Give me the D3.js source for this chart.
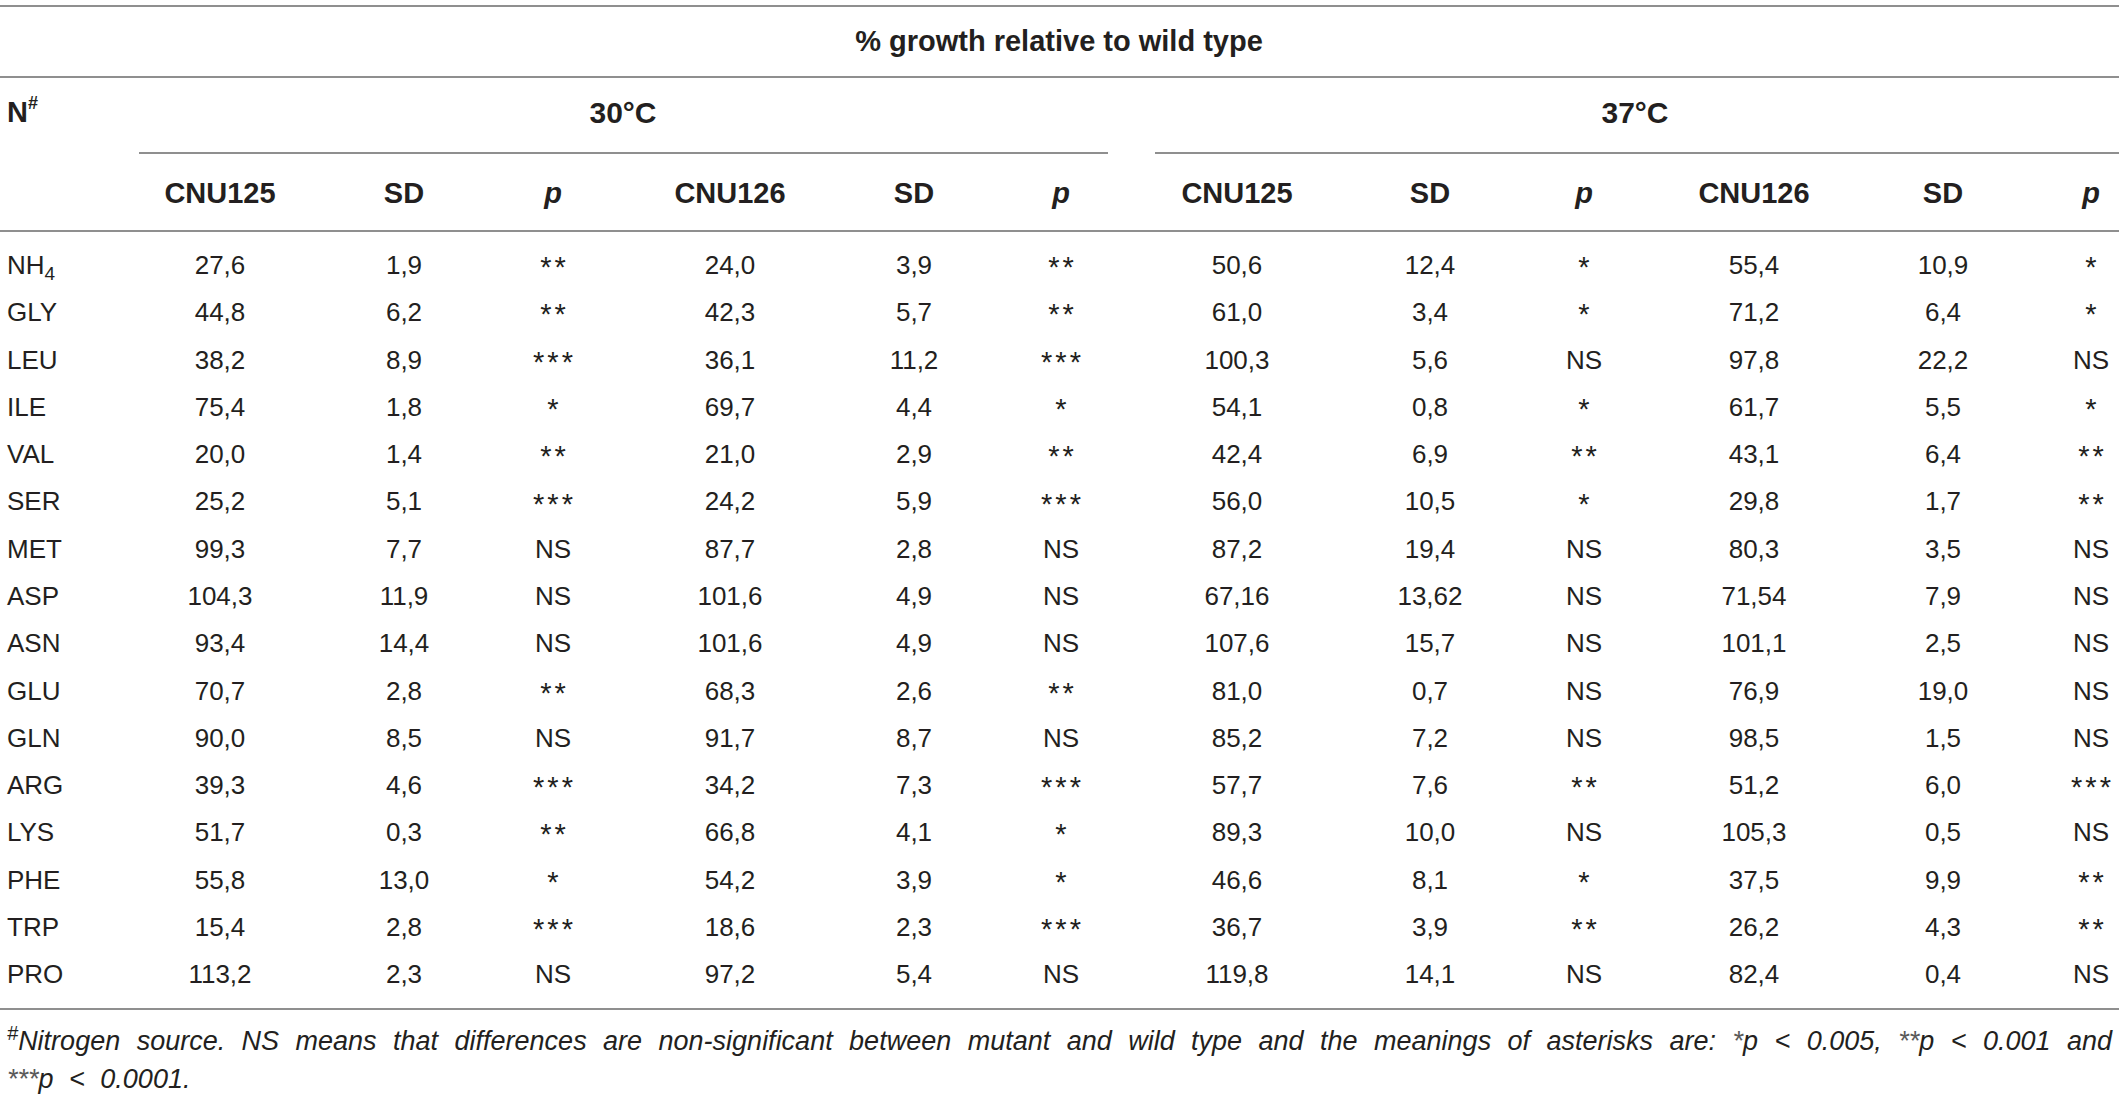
<!DOCTYPE html>
<html>
<head>
<meta charset="utf-8">
<script src="https://cdn.jsdelivr.net/npm/d3@7"></script>
<style>
  html, body { margin: 0; padding: 0; background: #fff; }
  svg { display: block; }
  text { font-family: "Liberation Sans", Arial, Helvetica, sans-serif; fill: #231f20; }
</style>
</head>
<body>
<svg id="chart" width="2119" height="1101"></svg>
<script>
// ---- data ----
const title = "% growth relative to wild type";
const temperatures = ["30°C", "37°C"];
const columnHeaders = ["CNU125", "SD", "p", "CNU126", "SD", "p", "CNU125", "SD", "p", "CNU126", "SD", "p"];
const sources = ["NH4", "GLY", "LEU", "ILE", "VAL", "SER", "MET", "ASP", "ASN", "GLU", "GLN", "ARG", "LYS", "PHE", "TRP", "PRO"];

const cnu125_30 = ["27,6", "44,8", "38,2", "75,4", "20,0", "25,2", "99,3", "104,3", "93,4", "70,7", "90,0", "39,3", "51,7", "55,8", "15,4", "113,2"];
const sd125_30  = ["1,9", "6,2", "8,9", "1,8", "1,4", "5,1", "7,7", "11,9", "14,4", "2,8", "8,5", "4,6", "0,3", "13,0", "2,8", "2,3"];
const p125_30   = ["**", "**", "***", "*", "**", "***", "NS", "NS", "NS", "**", "NS", "***", "**", "*", "***", "NS"];
const cnu126_30 = ["24,0", "42,3", "36,1", "69,7", "21,0", "24,2", "87,7", "101,6", "101,6", "68,3", "91,7", "34,2", "66,8", "54,2", "18,6", "97,2"];
const sd126_30  = ["3,9", "5,7", "11,2", "4,4", "2,9", "5,9", "2,8", "4,9", "4,9", "2,6", "8,7", "7,3", "4,1", "3,9", "2,3", "5,4"];
const p126_30   = ["**", "**", "***", "*", "**", "***", "NS", "NS", "NS", "**", "NS", "***", "*", "*", "***", "NS"];
const cnu125_37 = ["50,6", "61,0", "100,3", "54,1", "42,4", "56,0", "87,2", "67,16", "107,6", "81,0", "85,2", "57,7", "89,3", "46,6", "36,7", "119,8"];
const sd125_37  = ["12,4", "3,4", "5,6", "0,8", "6,9", "10,5", "19,4", "13,62", "15,7", "0,7", "7,2", "7,6", "10,0", "8,1", "3,9", "14,1"];
const p125_37   = ["*", "*", "NS", "*", "**", "*", "NS", "NS", "NS", "NS", "NS", "**", "NS", "*", "**", "NS"];
const cnu126_37 = ["55,4", "71,2", "97,8", "61,7", "43,1", "29,8", "80,3", "71,54", "101,1", "76,9", "98,5", "51,2", "105,3", "37,5", "26,2", "82,4"];
const sd126_37  = ["10,9", "6,4", "22,2", "5,5", "6,4", "1,7", "3,5", "7,9", "2,5", "19,0", "1,5", "6,0", "0,5", "9,9", "4,3", "0,4"];
const p126_37   = ["*", "*", "NS", "*", "**", "**", "NS", "NS", "NS", "NS", "NS", "***", "NS", "**", "**", "NS"];

const columns = [cnu125_30, sd125_30, p125_30, cnu126_30, sd126_30, p126_30,
                 cnu125_37, sd125_37, p125_37, cnu126_37, sd126_37, p126_37];

const footLine1 = "Nitrogen source. NS means that differences are non-significant between mutant and wild type and the meanings of asterisks are: ";
const footLine2 = " < 0.0001.";

// ---- layout ----
const W = 2119;
const svg = d3.select("#chart");
const lineColor = "#8f8f8f";
const starColor = "#5a5a5a";
const colIdx = d3.range(columnHeaders.length);
const xCol = d3.scaleOrdinal().domain(colIdx)
  .range([220, 404, 553, 730, 914, 1061, 1237, 1430, 1584, 1754, 1943, 2091]);
const yRow = d3.scalePoint().domain(sources).range([265, 974]);
const xTemp = d3.scaleOrdinal().domain(temperatures).range([623, 1635]);
const spanTemp = { "30°C": [139, 1108], "37°C": [1155, 2119] };

function hline(x1, x2, y) {
  svg.append("line").attr("x1", x1).attr("x2", x2).attr("y1", y).attr("y2", y)
    .attr("stroke", lineColor).attr("stroke-width", 2);
}

hline(0, W, 6);
hline(0, W, 77);
temperatures.forEach(t => hline(spanTemp[t][0], spanTemp[t][1], 153));
hline(0, W, 231);
hline(0, W, 1009);

// title
svg.append("text").attr("x", 1059).attr("y", 41).attr("dy", "0.35em")
  .attr("text-anchor", "middle").attr("font-size", 29).attr("font-weight", "bold")
  .text(title);

// N#
const nt = svg.append("text").attr("x", 7).attr("y", 112).attr("dy", "0.35em")
  .attr("font-size", 29).attr("font-weight", "bold");
nt.append("tspan").text("N");
nt.append("tspan").attr("font-size", 18).attr("dy", "-0.75em").text("#");

// temperatures
svg.selectAll("text.temp").data(temperatures).join("text").attr("class", "temp")
  .attr("x", d => xTemp(d)).attr("y", 112).attr("dy", "0.35em")
  .attr("text-anchor", "middle").attr("font-size", 30).attr("font-weight", "bold")
  .text(d => d);

// column headers
svg.selectAll("text.colh").data(colIdx).join("text").attr("class", "colh")
  .attr("x", i => xCol(i)).attr("y", 193).attr("dy", "0.35em")
  .attr("text-anchor", "middle").attr("font-size", 29).attr("font-weight", "bold")
  .attr("font-style", i => columnHeaders[i] === "p" ? "italic" : null)
  .text(i => columnHeaders[i]);

// row labels
const rl = svg.selectAll("text.rowl").data(sources).join("text").attr("class", "rowl")
  .attr("x", 7).attr("y", d => yRow(d)).attr("dy", "0.35em").attr("font-size", 26);
rl.each(function(d) {
  const t = d3.select(this);
  const m = d.match(/^([A-Z]+)(\d+)$/);
  if (m) {
    t.append("tspan").text(m[1]);
    t.append("tspan").attr("font-size", 19).attr("dy", "0.3em").text(m[2]);
  } else t.text(d);
});

// cells
const isStar = v => /^\*+$/.test(v);
const cells = [];
columns.forEach((col, ci) => col.forEach((v, ri) => cells.push({ ci, ri, v })));
svg.selectAll("text.cell").data(cells).join("text").attr("class", "cell")
  .attr("x", d => xCol(d.ci) + (isStar(d.v) ? 1.5 : 0)).attr("y", d => yRow(sources[d.ri]))
  .attr("dy", d => isStar(d.v) ? "0.42em" : "0.35em")
  .attr("text-anchor", "middle")
  .attr("font-size", d => isStar(d.v) ? 29 : 26)
  .attr("letter-spacing", d => isStar(d.v) ? 3 : null)
  .attr("fill", d => isStar(d.v) ? starColor : null)
  .text(d => d.v);

// footnote
const f1 = svg.append("text").attr("x", 7).attr("y", 1050).attr("font-size", 27)
  .attr("font-style", "italic");
f1.append("tspan").attr("font-size", 20).attr("dy", "-0.5em").text("#");
f1.append("tspan").attr("dy", "0.37em").text(footLine1);
f1.append("tspan").attr("fill", starColor).text("*");
f1.append("tspan").text("p < 0.005, ");
f1.append("tspan").attr("fill", starColor).text("**");
f1.append("tspan").text("p < 0.001 and");
// justify line 1 by distributing word spacing
const target = 2105;
const natural = f1.node().getComputedTextLength();
const nSpaces = (f1.text().match(/ /g) || []).length;
f1.attr("word-spacing", (target - natural) / nSpaces);

const f2 = svg.append("text").attr("x", 7).attr("y", 1088).attr("font-size", 27)
  .attr("font-style", "italic").attr("word-spacing", 8);
f2.append("tspan").attr("fill", starColor).text("***");
f2.append("tspan").text("p");
f2.append("tspan").text(footLine2);
</script>
</body>
</html>
